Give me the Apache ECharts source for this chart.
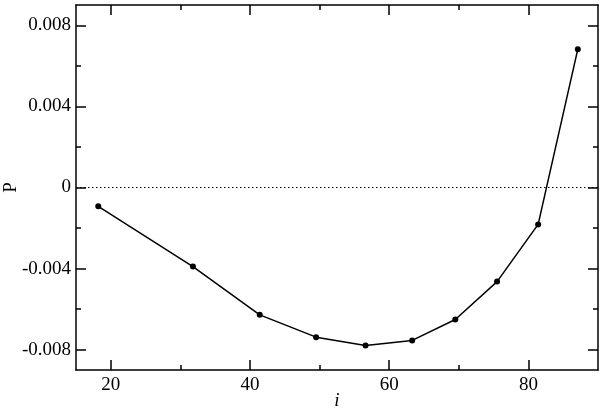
<!DOCTYPE html>
<html>
<head>
<meta charset="utf-8">
<script src="https://cdn.jsdelivr.net/npm/echarts@6/dist/echarts.min.js"></script>
<style>html,body{margin:0;padding:0;background:#fff}#c{width:600px;height:408px}</style>
</head>
<body>
<div id="c"></div>
<script>
var xValues = [18.2, 31.8, 41.4, 49.5, 56.6, 63.3, 69.5, 75.5, 81.4, 87.1];
var pValues = [-0.00093, -0.0039, -0.00628, -0.00738, -0.00779, -0.00754, -0.00651, -0.00464, -0.00182, 0.00682];
var xMajorTicks = [20, 40, 60, 80];
var xMinorTicks = [30, 50, 70];
var yMajorTicks = [-0.008, -0.004, 0, 0.004, 0.008];
var yMinorTicks = [-0.006, -0.002, 0.002, 0.006];

var FONT = 'Liberation Serif, Times New Roman, Times, serif';
var chart = echarts.init(document.getElementById('c'), null, {renderer: 'canvas'});
var data = xValues.map(function (x, i) { return [x, pValues[i]]; });

function fmtY(v) {
  if (Math.abs(v) < 1e-12) return '0';
  return (v < 0 ? '-' : '') + Math.abs(v).toFixed(3);
}

function xAx(pos, ticks, len, showLine, showLabel) {
  return {
    type: 'value', position: pos, min: 15, max: 90,
    axisLine: {show: showLine, onZero: false, lineStyle: {color: '#000', width: 1.5}},
    axisTick: {show: true, inside: true, length: len, customValues: ticks, lineStyle: {color: '#000', width: 1.5}},
    axisLabel: {show: showLabel, customValues: ticks, color: '#000', fontFamily: FONT, fontSize: 19, margin: 6},
    splitLine: {show: false}
  };
}
function yAx(pos, ticks, len, showLine, showLabel) {
  return {
    type: 'value', position: pos, min: -0.009, max: 0.009,
    axisLine: {show: showLine, onZero: false, lineStyle: {color: '#000', width: 1.5}},
    axisTick: {show: true, inside: true, length: len, customValues: ticks, lineStyle: {color: '#000', width: 1.5}},
    axisLabel: {show: showLabel, customValues: ticks, formatter: fmtY, color: '#000', fontFamily: FONT, fontSize: 19, margin: 5},
    splitLine: {show: false}
  };
}

var xa0 = xAx('bottom', xMajorTicks, 10, true, true);
xa0.name = 'i';
xa0.nameLocation = 'middle';
xa0.nameGap = 21;
xa0.nameMoveOverlap = false;
xa0.nameTextStyle = {color: '#000', fontFamily: FONT, fontSize: 19, fontStyle: 'italic'};
var ya0 = yAx('left', yMajorTicks, 10, true, true);
ya0.name = 'P';
ya0.nameLocation = 'middle';
ya0.nameGap = 55;
ya0.nameMoveOverlap = false;
ya0.nameTextStyle = {color: '#000', fontFamily: FONT, fontSize: 19};

chart.setOption({
  animation: false,
  backgroundColor: '#fff',
  textStyle: {fontFamily: FONT},
  grid: {left: 76, right: 2, top: 5, bottom: 38, containLabel: false, outerBoundsMode: 'none'},
  xAxis: [
    xa0,
    xAx('bottom', xMinorTicks, 5, false, false),
    xAx('top', xMajorTicks, 10, true, false),
    xAx('top', xMinorTicks, 5, false, false)
  ],
  yAxis: [
    ya0,
    yAx('left', yMinorTicks, 5, false, false),
    yAx('right', yMajorTicks, 10, true, false),
    yAx('right', yMinorTicks, 5, false, false)
  ],
  series: [{
    type: 'line',
    xAxisIndex: 0, yAxisIndex: 0,
    data: data,
    symbol: 'circle', symbolSize: 6,
    itemStyle: {color: '#000'},
    lineStyle: {color: '#000', width: 1.5},
    markLine: {
      silent: true, symbol: 'none', label: {show: false},
      lineStyle: {color: '#000', width: 1, type: [1.5, 2.5]},
      data: [{yAxis: 0}]
    }
  }]
});
</script>
</body>
</html>
